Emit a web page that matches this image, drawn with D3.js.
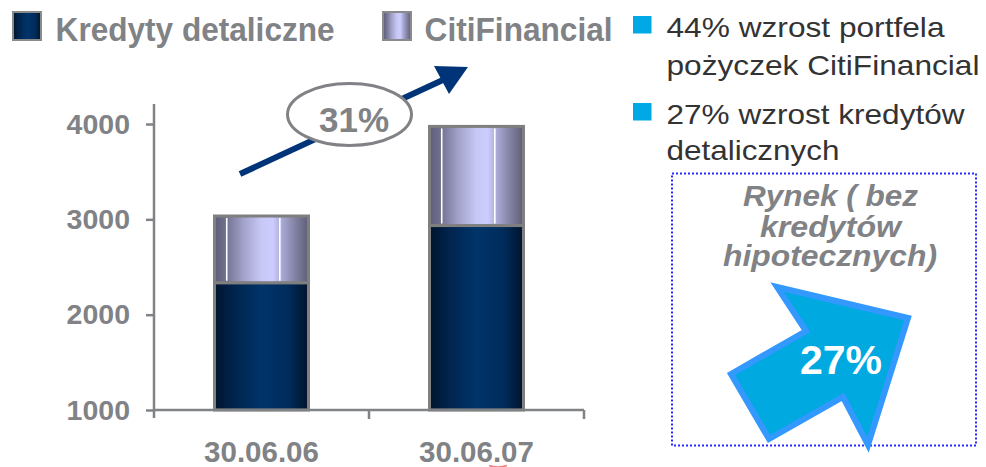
<!DOCTYPE html>
<html><head><meta charset="utf-8">
<script src="https://cdn.jsdelivr.net/npm/d3@7"></script>
<style>html,body{margin:0;padding:0;background:#fff;}svg{display:block;font-family:"Liberation Sans",Arial,sans-serif;}</style>
</head><body><svg id="c" width="986" height="467"></svg>
<script>
const categories = ["30.06.06", "30.06.07"];
const seriesNames = ["Kredyty detaliczne", "CitiFinancial"];
const kredyty = [2335, 2935];
const citi = [700, 1040];
const yTicks = [1000, 2000, 3000, 4000];
const totalGrowth = "31%";
const bulletTexts = [["44% wzrost portfela", "pożyczek CitiFinancial"], ["27% wzrost kredytów", "detalicznych"]];
const marketTitle = ["Rynek ( bez", "kredytów", "hipotecznych)"];
const marketGrowth = "27%";

const svg = d3.select("#c");
const defs = svg.append("defs");
const gray = "#808285";

function grad(id, stops) {
  const g = defs.append("linearGradient").attr("id", id).attr("x1", 0).attr("x2", 1).attr("y1", 0).attr("y2", 0);
  stops.forEach(s => g.append("stop").attr("offset", s[0]).attr("stop-color", s[1]));
}
grad("navy", [[0, "#00142c"], [0.2, "#00244c"], [0.5, "#00346a"], [0.78, "#002c5c"], [1, "#00142c"]]);
grad("lav", [[0, "#5e5e78"], [0.12, "#707090"], [0.3, "#a0a0c8"], [0.5, "#c8c8f6"], [0.62, "#ccccff"], [0.72, "#a8a8d4"], [0.88, "#7c7c9c"], [1, "#5e5e78"]]);

const x = d3.scaleBand().domain(categories).range([154, 584]).paddingInner(0.563).paddingOuter(0.2815);
const y = d3.scaleLinear().domain([1000, 4210]).range([410, 104]);

// bars
const stacked = categories.map((c, i) => ({c, k: kredyty[i], t: kredyty[i] + citi[i]}));
const bg = svg.append("g");
stacked.forEach(d => {
  const x0 = x(d.c), w = x.bandwidth();
  bg.append("rect").attr("x", x0).attr("y", y(d.k)).attr("width", w).attr("height", y(1000) - y(d.k))
    .attr("fill", "url(#navy)").attr("stroke", "#7f7f7f").attr("stroke-width", 3);
  bg.append("rect").attr("x", x0).attr("y", y(d.t)).attr("width", w).attr("height", y(d.k) - y(d.t))
    .attr("fill", "url(#lav)").attr("stroke", "#7f7f7f").attr("stroke-width", 3);
  [0.13, 0.695].forEach(f => {
    bg.append("line").attr("x1", x0 + w * f).attr("x2", x0 + w * f).attr("y1", y(d.t) + 2).attr("y2", y(d.k) - 2)
      .attr("stroke", "#fff").attr("stroke-width", 1.6);
  });
});

// y axis
const ya = svg.append("g").attr("transform", "translate(154,0)")
  .call(d3.axisLeft(y).tickValues(yTicks).tickSize(8).tickPadding(16).tickFormat(d3.format("d")));
ya.select(".domain").attr("stroke", gray).attr("stroke-width", 2.5).attr("d", "M0," + y(4210) + "V418");
ya.selectAll(".tick line").attr("stroke", gray).attr("stroke-width", 2.5);
ya.selectAll(".tick text").attr("fill", gray).attr("font-size", 28.5).attr("font-weight", "bold")
  .attr("font-family", "Liberation Sans, Arial, sans-serif");

// x axis
const xa = svg.append("g").attr("transform", "translate(0,410)")
  .call(d3.axisBottom(x).tickSize(0).tickPadding(31));
xa.select(".domain").attr("stroke", gray).attr("stroke-width", 2.5).attr("d", "M154,0H584");
xa.selectAll(".tick text").attr("fill", gray).attr("font-size", 29.5).attr("font-weight", "bold")
  .attr("font-family", "Liberation Sans, Arial, sans-serif").attr("dy", "0.71em");
const bounds = [x.range()[0], ...categories.slice(1).map(c => x(c) - x.step() * x.paddingInner() / 2), x.range()[1]];
bounds.slice(1).forEach(b => {
  xa.append("line").attr("x1", b).attr("x2", b).attr("y1", 0).attr("y2", 9).attr("stroke", gray).attr("stroke-width", 2.5);
});
svg.append("path").attr("d", "M489,465.5q9,3 18,0").attr("stroke", "#f08080").attr("fill", "none").attr("stroke-width", 1.5);

// legend
const legCols = [{x: 12, tx: 55.6, len: 279, fill: "url(#navy)"}, {x: 382, tx: 424.6, len: 188, fill: "url(#lav)"}];
seriesNames.forEach((n, i) => {
  const L = legCols[i];
  svg.append("rect").attr("x", L.x + 1).attr("y", 12).attr("width", 28).attr("height", 28)
    .attr("fill", L.fill).attr("stroke", "#8a8a8a").attr("stroke-width", 2);
  svg.append("text").attr("x", L.tx).attr("y", 41).attr("font-size", 33).attr("font-weight", "bold")
    .attr("fill", gray).attr("textLength", L.len).attr("lengthAdjust", "spacingAndGlyphs").text(n);
});

// growth arrow and ellipse
svg.append("line").attr("x1", 240).attr("y1", 174).attr("x2", 445).attr("y2", 79)
  .attr("stroke", "#003478").attr("stroke-width", 6);
svg.append("path").attr("d", "M468,67 L434,66 L449,94 Z").attr("fill", "#003478");
svg.append("ellipse").attr("cx", 349.5).attr("cy", 114.5).attr("rx", 62).attr("ry", 31)
  .attr("fill", "#fff").attr("stroke", gray).attr("stroke-width", 3);
svg.append("text").attr("x", 354).attr("y", 131.5).attr("text-anchor", "middle").attr("font-size", 35)
  .attr("font-weight", "bold").attr("fill", gray).text(totalGrowth);

// bullets
const bl = [[37, 75], [124, 160]];
const lens = [[278, 313], [298, 173]];
bulletTexts.forEach((lines, i) => {
  svg.append("rect").attr("x", 633).attr("y", bl[i][0] - 21).attr("width", 18.5).attr("height", 17.5).attr("fill", "#00a8e6");
  lines.forEach((t, j) => {
    svg.append("text").attr("x", 666.5).attr("y", bl[i][j]).attr("font-size", 28).attr("fill", "#333333")
      .attr("textLength", lens[i][j]).attr("lengthAdjust", "spacingAndGlyphs").text(t);
  });
});

// market box
svg.append("rect").attr("x", 672).attr("y", 173.5).attr("width", 304).attr("height", 272)
  .attr("fill", "none").attr("stroke", "#2a2aff").attr("stroke-width", 2).attr("stroke-dasharray", "2,2");
const mb = [206, 236.5, 265.5];
const mlen = [175, 141, 214];
const mcx = [830.5, 830.5, 830];
marketTitle.forEach((t, i) => {
  svg.append("text").attr("x", mcx[i]).attr("y", mb[i]).attr("text-anchor", "middle").attr("font-size", 29)
    .attr("font-weight", "bold").attr("font-style", "italic").attr("fill", gray)
    .attr("textLength", mlen[i]).attr("lengthAdjust", "spacingAndGlyphs").text(t);
});
svg.append("path").attr("d", "M777,287 L908,318 L868,445 L843,397 L769,439 L731,374 L806,331 Z")
  .attr("fill", "#00a9e0").attr("stroke", "#3399ff").attr("stroke-width", 6).attr("stroke-linejoin", "miter");
svg.append("text").attr("x", 841).attr("y", 374).attr("text-anchor", "middle").attr("font-size", 41)
  .attr("font-weight", "bold").attr("fill", "#fff").text(marketGrowth);
</script></body></html>
